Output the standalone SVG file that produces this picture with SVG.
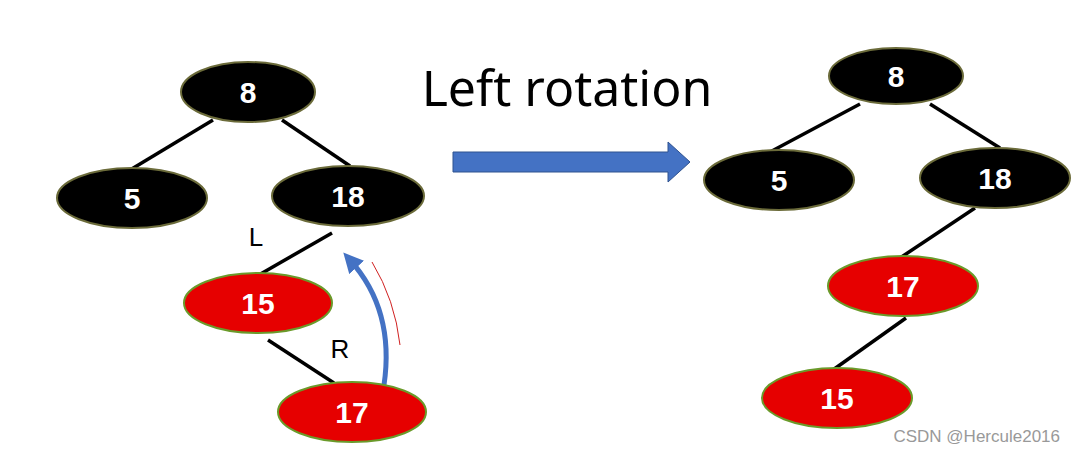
<svg xmlns="http://www.w3.org/2000/svg" width="1076" height="451" viewBox="0 0 1076 451">
<style>
.b{fill:#000;stroke:#6b6b3a;stroke-width:2}
.r{fill:#e60000;stroke:#6a9a2a;stroke-width:2}
.t{font-family:"Liberation Sans",Arial,sans-serif;font-weight:bold;font-size:30px;fill:#fff;text-anchor:middle}
.e{stroke:#000;stroke-width:3.5}
.lab{font-family:"Liberation Sans",Arial,sans-serif;font-size:26px;fill:#000;text-anchor:middle}
</style>
<defs><marker id="ah" viewBox="0 0 10 10" refX="5" refY="5" markerWidth="4" markerHeight="4" orient="auto"><path d="M0,0L10,5L0,10z" fill="#4472c4"/></marker></defs>
<rect width="1076" height="451" fill="#fff"/>
<g id="connectors">
<line class="e" x1="213" y1="120" x2="130" y2="170"/>
<line class="e" x1="282" y1="120" x2="350" y2="166"/>
<line class="e" x1="332" y1="233" x2="250" y2="280"/>
<line class="e" x1="268" y1="340" x2="334" y2="383"/>
<line class="e" x1="860" y1="104" x2="770" y2="152"/>
<line class="e" x1="930" y1="104" x2="1000" y2="148"/>
<line class="e" x1="975" y1="208" x2="900" y2="258"/>
<line class="e" x1="906" y1="318" x2="830" y2="372"/>
<path d="M384,385 Q395,310 350,260" fill="none" stroke="#4472c4" stroke-width="5" marker-end="url(#ah)"/>
<path d="M372,262 Q395,300 400,345" fill="none" stroke="#d02020" stroke-width="1"/>
<path d="M453,152 H668 V142 L690,162 L668,182 V172 H453 Z" fill="#4472c4" stroke="#2f528f" stroke-width="1"/>
</g>
<text x="567" y="106" font-family="'Noto Sans','Open Sans',sans-serif" font-size="50" text-anchor="middle" fill="#000">Left rotation</text>
<text class="lab" x="256" y="246">L</text>
<text class="lab" x="340" y="358">R</text>
<g id="n8"><ellipse class="b" cx="248" cy="92" rx="67" ry="30"/><text class="t" x="248" y="103">8</text></g>
<g id="n5"><ellipse class="b" cx="132" cy="198" rx="75" ry="30"/><text class="t" x="132" y="209">5</text></g>
<g id="n18"><ellipse class="b" cx="348" cy="196" rx="76" ry="30"/><text class="t" x="348" y="207">18</text></g>
<g id="n15"><ellipse class="r" cx="258" cy="303" rx="74" ry="30"/><text class="t" x="258" y="314">15</text></g>
<g id="n17"><ellipse class="r" cx="352" cy="412" rx="74" ry="30"/><text class="t" x="352" y="423">17</text></g>
<g id="m8"><ellipse class="b" cx="896" cy="76" rx="67" ry="28"/><text class="t" x="896" y="87">8</text></g>
<g id="m5"><ellipse class="b" cx="779" cy="180" rx="75" ry="30"/><text class="t" x="779" y="191">5</text></g>
<g id="m18"><ellipse class="b" cx="995" cy="178" rx="75" ry="30"/><text class="t" x="995" y="189">18</text></g>
<g id="m17"><ellipse class="r" cx="903" cy="286" rx="75" ry="30"/><text class="t" x="903" y="297">17</text></g>
<g id="m15"><ellipse class="r" cx="837" cy="398" rx="75" ry="30"/><text class="t" x="837" y="409">15</text></g>
<text x="1060" y="442" font-family="'Liberation Sans',Arial,sans-serif" font-size="17" fill="#999" text-anchor="end">CSDN @Hercule2016</text>
</svg>
